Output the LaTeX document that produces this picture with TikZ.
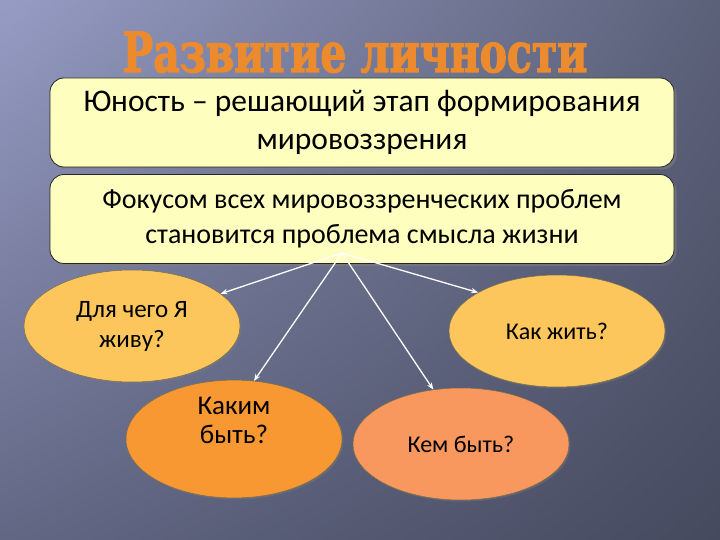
\documentclass[tikz,border=0pt]{standalone}
\usepackage{fontspec}
\usepackage{graphicx}
\setmainfont{Carlito}
\newfontfamily\titlefont{DejaVu Serif}[BoldFeatures={FakeBold=2.5}]
\usetikzlibrary{shapes.geometric,shadows,shadings,arrows.meta}
\definecolor{bgtl}{RGB}{150,156,196}
\definecolor{bgtr}{RGB}{92,97,122}
\definecolor{bgbl}{RGB}{98,103,132}
\definecolor{bgbr}{RGB}{70,74,95}
\definecolor{titleorange}{RGB}{236,138,46}
\definecolor{boxfill}{RGB}{254,254,190}
\definecolor{ovallight}{RGB}{252,198,92}
\definecolor{ovaldark}{RGB}{247,152,50}
\definecolor{ovalsalmon}{RGB}{249,152,94}
\definecolor{ovalline}{RGB}{125,110,70}
\begin{document}
\begin{tikzpicture}[x=1pt,y=-1pt,
    box/.style={draw=black!85,line width=0.8pt,fill=boxfill,rounded corners=14pt,
      minimum width=624pt,minimum height=89pt,align=center,
      drop shadow={shadow xshift=2.5pt,shadow yshift=-2.5pt,opacity=0.55}},
    oval/.style={ellipse,draw=ovalline,line width=0.5pt,minimum width=216pt,
      minimum height=112pt,inner sep=0pt,align=center,
      drop shadow={shadow xshift=1.5pt,shadow yshift=-1.5pt,opacity=0.35}},
    link/.style={draw=white,line width=1.3pt,-{Stealth[length=7pt,width=5.5pt]}}]
  \useasboundingbox (0,0) rectangle (720,540);
  \shade[upper left=bgtl,upper right=bgtr,lower left=bgbl,lower right=bgbr]
    (0,0) rectangle (720,540);
  \node[anchor=base,text=titleorange,inner sep=0pt] (title) at (355,72)
    {\titlefont\bfseries\fontsize{55}{55}\selectfont\resizebox{465pt}{\height}{Развитие личности}};
  \draw
    (362,122.5) node[box,font=\fontsize{31.5}{38}\selectfont] (stage)
      {\raisebox{-3pt}{Юность – решающий этап формирования}\\\raisebox{-3pt}{мировоззрения}}
    (362,219) node[box,font=\fontsize{28}{35}\selectfont] (focus)
      {\raisebox{-3pt}{Фокусом всех мировоззренческих проблем}\\\raisebox{-3pt}{становится проблема смысла жизни}}
    (132,326) node[oval,fill=ovallight,font=\fontsize{25}{30}\selectfont] (why)
      {\raisebox{-3pt}{Для чего Я}\\\raisebox{-3pt}{живу?}}
    (557,331) node[oval,fill=ovallight,font=\fontsize{24}{30}\selectfont] (how)
      {Как жить?}
    (234,439) node[oval,fill=ovaldark,font=\fontsize{27}{29}\selectfont] (whatkind)
      {Каким\\быть?\\[8pt]}
    (461,444) node[oval,fill=ovalsalmon,font=\fontsize{24}{30}\selectfont] (who)
      {Кем быть?};
  \coordinate (hub) at (342,253);
  \begin{scope}[link]
    \draw (hub) to (why.20);
    \draw (hub) to (whatkind.71);
    \draw (hub) to (how.154);
    \draw (hub) to (who.117);
  \end{scope}
\end{tikzpicture}
\end{document}
